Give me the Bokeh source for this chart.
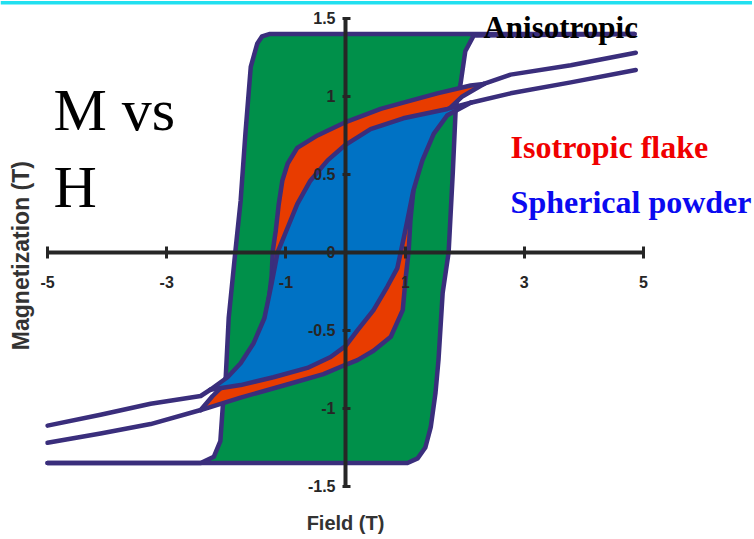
import math
from bokeh.plotting import figure
from bokeh.models import LinearAxis, FixedTicker, Label, Span
from bokeh.embed import file_html
from bokeh.resources import INLINE

# ---------------- data (field H in T, magnetization M in T) ----------------
# Anisotropic loop
aniso_desc_H = [4.85, -1.28, -1.40, -1.48, -1.59, -1.68, -1.76, -1.85, -1.96, -2.01, -2.06, -2.10, -2.21, -2.43, -2.55, -5.00]
aniso_desc_M = [1.40, 1.40, 1.385, 1.34, 1.19, 0.76, 0.33, 0.00, -0.42, -0.80, -0.99, -1.21, -1.31, -1.35, -1.35, -1.35]
aniso_asc_H = [-5.00, 1.04, 1.21, 1.34, 1.43, 1.51, 1.56, 1.63, 1.73, 1.80, 1.85, 1.93, 2.01, 2.15, 4.85]
aniso_asc_M = [-1.35, -1.35, -1.32, -1.25, -1.12, -0.90, -0.69, -0.26, 0.00, 0.51, 0.93, 1.08, 1.29, 1.39, 1.40]

# Isotropic flake loop
flake_desc_H = [2.32, 2.10, 1.54, 0.97, 0.59, -0.03, -0.47, -0.81, -0.97, -1.06, -1.12, -1.17, -1.22, -1.24, -1.29, -1.38, -1.53, -1.73, -1.96, -2.23, -2.43]
flake_desc_M = [1.08, 1.07, 1.02, 0.96, 0.92, 0.83, 0.75, 0.67, 0.57, 0.46, 0.31, 0.14, 0.01, -0.15, -0.31, -0.47, -0.60, -0.72, -0.82, -0.92, -1.01]
flake_asc_H = [-2.43, -1.76, -0.92, -0.37, 0.00, 0.20, 0.47, 0.76, 0.96, 1.01, 1.06, 1.09, 1.14, 1.26, 1.43, 1.68, 1.96, 2.32]
flake_asc_M = [-1.01, -0.93, -0.84, -0.78, -0.72, -0.69, -0.63, -0.54, -0.37, -0.16, 0.01, 0.21, 0.40, 0.59, 0.75, 0.90, 1.00, 1.08]
flake_tail_pos_H = [2.32, 2.77, 3.78, 4.87]
flake_tail_pos_M = [1.08, 1.14, 1.20, 1.28]
flake_tail_neg_H = [-2.43, -3.27, -4.11, -5.00]
flake_tail_neg_M = [-1.01, -1.10, -1.16, -1.22]

# Spherical powder loop
powder_desc_H = [2.10, 1.71, 0.97, 0.42, 0.00, -0.30, -0.59, -0.81, -0.97, -1.14, -1.24, -1.36, -1.54, -1.76, -1.98, -2.27]
powder_desc_M = [0.96, 0.92, 0.86, 0.79, 0.69, 0.59, 0.46, 0.31, 0.16, 0.00, -0.20, -0.42, -0.58, -0.71, -0.80, -0.88]
powder_asc_H = [-2.27, -1.76, -1.21, -0.64, -0.25, 0.00, 0.20, 0.47, 0.70, 0.87, 0.97, 1.04, 1.14, 1.29, 1.48, 1.71, 2.10]
powder_asc_M = [-0.88, -0.85, -0.80, -0.74, -0.67, -0.60, -0.50, -0.37, -0.22, -0.10, 0.08, 0.21, 0.40, 0.59, 0.76, 0.88, 0.96]
powder_tail_pos_H = [2.10, 2.77, 3.78, 4.87]
powder_tail_pos_M = [0.96, 1.02, 1.09, 1.17]
powder_tail_neg_H = [-2.27, -2.43, -3.27, -4.11, -5.00]
powder_tail_neg_M = [-0.88, -0.92, -0.97, -1.04, -1.11]

# ticks
x_ticks = [-5, -3, -1, 1, 3, 5]
x_tick_labels = ["-5", "-3", "-1", "1", "3", "5"]
y_ticks = [-1.5, -1.0, -0.5, 0.0, 0.5, 1.0, 1.5]
y_tick_labels = ["-1.5", "-1", "-0.5", "0", "0.5", "1", "1.5"]

# ---------------- styling ----------------
GREEN = "#00904a"
RED = "#e83c00"
BLUE = "#0072c4"
OUTLINE = "#3a2e7c"
AXIS = "#262626"
LW = 4.5

p = figure(width=752, height=537, x_range=(-5.789, 6.829), y_range=(-1.827, 1.615),
           output_backend="svg", toolbar_location=None,
           x_axis_location=None, y_axis_location=None,
           min_border=0, outline_line_color=None,
           background_fill_color="white", border_fill_color="white")
p.grid.visible = False

# slide header rule
p.add_layout(Span(location=1.6, dimension="width", line_color="#22e0f0", line_width=3.5))

def loop(desc_H, desc_M, asc_H, asc_M, color):
    p.patch(desc_H + asc_H[1:], desc_M + asc_M[1:], fill_color=color, line_color=None)
    for hx, my in ((desc_H, desc_M), (asc_H, asc_M)):
        p.line(hx, my, line_color=OUTLINE, line_width=LW, line_join="round", line_cap="round")

loop(aniso_desc_H, aniso_desc_M, aniso_asc_H, aniso_asc_M, GREEN)
loop(flake_desc_H, flake_desc_M, flake_asc_H, flake_asc_M, RED)
for hx, my in ((flake_tail_pos_H, flake_tail_pos_M), (flake_tail_neg_H, flake_tail_neg_M)):
    p.line(hx, my, line_color=OUTLINE, line_width=LW, line_join="round", line_cap="round")
loop(powder_desc_H, powder_desc_M, powder_asc_H, powder_asc_M, BLUE)
for hx, my in ((powder_tail_pos_H, powder_tail_pos_M), (powder_tail_neg_H, powder_tail_neg_M)):
    p.line(hx, my, line_color=OUTLINE, line_width=LW, line_join="round", line_cap="round")

def style_axis(ax):
    ax.axis_line_width = 4
    ax.axis_line_color = AXIS
    ax.major_tick_line_width = 3
    ax.major_tick_line_color = AXIS
    ax.minor_tick_line_color = None
    ax.major_label_text_font = "Liberation Sans"
    ax.major_label_text_font_style = "bold"
    ax.major_label_text_font_size = "16px"
    ax.major_label_text_color = AXIS

xaxis = LinearAxis(fixed_location=0, bounds=(-5, 5),
                   ticker=FixedTicker(ticks=x_ticks, minor_ticks=[]),
                   major_label_overrides=dict(zip(x_ticks, x_tick_labels)))
style_axis(xaxis)
xaxis.major_tick_in = 6
xaxis.major_tick_out = 6
xaxis.major_label_standoff = 18
p.add_layout(xaxis, "below")

yaxis = LinearAxis(fixed_location=0, bounds=(-1.5, 1.5),
                   ticker=FixedTicker(ticks=y_ticks, minor_ticks=[]),
                   major_label_overrides=dict(zip(y_ticks, y_tick_labels)))
style_axis(yaxis)
yaxis.major_tick_in = 5
yaxis.major_tick_out = 3
yaxis.major_label_standoff = 7
p.add_layout(yaxis, "left")

# axis titles
p.add_layout(Label(x=0, y=-1.731, text="Field (T)", text_align="center", text_baseline="middle",
                   text_font="Liberation Sans", text_font_style="bold", text_font_size="20px",
                   text_color="#333333"))
p.add_layout(Label(x=-5.453, y=-0.02, text="Magnetization (T)", angle=math.pi / 2,
                   text_align="center", text_baseline="middle",
                   text_font="Liberation Sans", text_font_style="bold", text_font_size="23px",
                   text_color="#333333"))

# slide texts
p.add_layout(Label(x=-4.90, y=0.91, text="M vs", text_baseline="alphabetic",
                   text_font="Liberation Serif", text_font_size="60px", text_color="black"))
p.add_layout(Label(x=-4.90, y=0.417, text="H", text_baseline="alphabetic",
                   text_font="Liberation Serif", text_font_size="60px", text_color="black"))
p.add_layout(Label(x=2.315, y=1.442, text="Anisotropic", text_baseline="alphabetic",
                   text_font="Liberation Serif", text_font_style="bold", text_font_size="31px",
                   text_color="black"))
p.add_layout(Label(x=2.77, y=0.679, text="Isotropic flake", text_baseline="alphabetic",
                   text_font="Liberation Serif", text_font_style="bold", text_font_size="32px",
                   text_color="#f00000"))
p.add_layout(Label(x=2.77, y=0.322, text="Spherical powder", text_baseline="alphabetic",
                   text_font="Liberation Serif", text_font_style="bold", text_font_size="32px",
                   text_color="#0a0af0"))

open("out.html", "w").write(file_html(p, INLINE))
